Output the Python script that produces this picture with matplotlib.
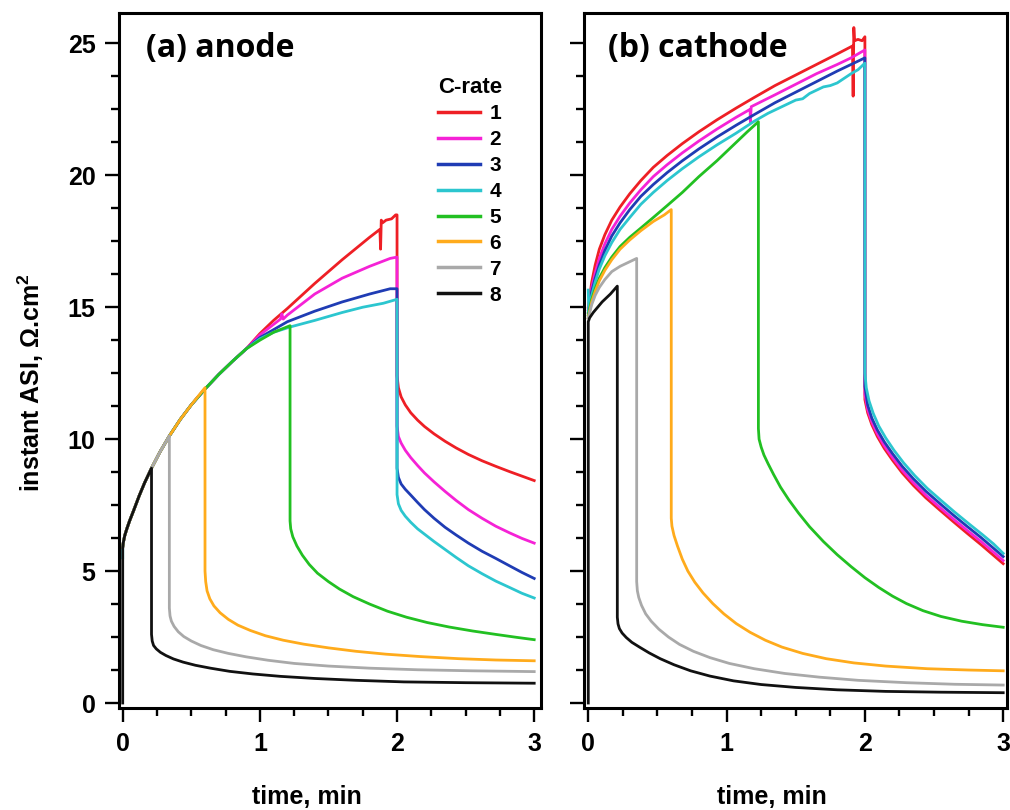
import matplotlib.pyplot as plt
from matplotlib.ticker import MultipleLocator

plt.rcParams['font.family'] = ['Liberation Sans', 'DejaVu Sans']
plt.rcParams['font.weight'] = 'bold'
plt.rcParams['mathtext.fontset'] = 'custom'
plt.rcParams['mathtext.rm'] = 'Liberation Sans:bold'
plt.rcParams['mathtext.bf'] = 'Liberation Sans:bold'
plt.rcParams['mathtext.default'] = 'bf'

rates = ['1', '2', '3', '4', '5', '6', '7', '8']
colors = ['#ee1f25', '#f522d6', '#1f3cb4', '#2cc6cf', '#22c022', '#ffab1c', '#a9a9a9', '#111111']

# anode, (time [min], ASI [ohm.cm2]); all rates share the early part of the pulse
anode_rise = [(0, 5.9), (0.005, 6.1), (0.015, 6.35), (0.03, 6.6), (0.05, 6.9), (0.08, 7.3), (0.12, 7.85),
              (0.16, 8.35), (0.21, 8.9), (0.27, 9.5), (0.34, 10.12), (0.42, 10.75), (0.5, 11.3), (0.6, 11.9),
              (0.7, 12.45), (0.8, 12.95), (0.9, 13.42)]

anode_1 = anode_rise + [(1.0, 14.0), (1.1, 14.5), (1.2, 14.95), (1.4, 15.9), (1.6, 16.8), (1.8, 17.65),
                        (1.875, 17.95), (1.88, 17.2), (1.885, 18.3), (1.895, 18.2), (1.92, 18.3), (1.96, 18.35),
                        (1.99, 18.5), (2.0, 18.5), (2.0, 12.4), (2.01, 11.95), (2.03, 11.6), (2.06, 11.3),
                        (2.1, 11.0), (2.15, 10.72), (2.2, 10.48), (2.27, 10.2), (2.35, 9.92), (2.43, 9.67),
                        (2.52, 9.42), (2.62, 9.18), (2.72, 8.97), (2.82, 8.77), (2.91, 8.6), (3.0, 8.43)]
anode_2 = anode_rise + [(1.0, 13.95), (1.1, 14.35), (1.15, 14.55), (1.16, 14.75), (1.17, 14.55), (1.2, 14.7),
                        (1.4, 15.5), (1.6, 16.1), (1.8, 16.55), (1.95, 16.85), (2.0, 16.9), (2.0, 10.5),
                        (2.01, 10.1), (2.03, 9.85), (2.06, 9.58), (2.1, 9.3), (2.15, 9.0), (2.2, 8.72),
                        (2.27, 8.38), (2.35, 8.02), (2.43, 7.68), (2.52, 7.33), (2.62, 7.0), (2.72, 6.7),
                        (2.82, 6.45), (2.91, 6.24), (3.0, 6.06)]
anode_3 = anode_rise + [(1.0, 13.85), (1.1, 14.15), (1.2, 14.45), (1.4, 14.85), (1.6, 15.2), (1.8, 15.5),
                        (1.95, 15.7), (2.0, 15.7), (2.0, 8.9), (2.01, 8.55), (2.03, 8.3), (2.06, 8.1),
                        (2.1, 7.88), (2.15, 7.6), (2.2, 7.33), (2.27, 7.0), (2.35, 6.66), (2.43, 6.37),
                        (2.52, 6.06), (2.62, 5.75), (2.72, 5.48), (2.82, 5.2), (2.91, 4.95), (3.0, 4.72)]
anode_4 = [(0, 5.5)] + anode_rise + [(1.0, 13.8), (1.1, 14.05), (1.22, 14.25), (1.4, 14.5), (1.5, 14.65),
                                     (1.6, 14.8), (1.75, 15.0), (1.9, 15.15), (2.0, 15.3), (2.0, 7.9),
                                     (2.01, 7.55), (2.03, 7.3), (2.06, 7.08), (2.1, 6.85), (2.15, 6.6),
                                     (2.2, 6.4), (2.27, 6.12), (2.35, 5.82), (2.43, 5.52), (2.52, 5.2),
                                     (2.62, 4.9), (2.72, 4.62), (2.82, 4.38), (2.91, 4.16), (3.0, 3.98)]
anode_5 = anode_rise + [(1.0, 13.75), (1.1, 14.05), (1.22, 14.3), (1.22, 6.9), (1.225, 6.6), (1.24, 6.3),
                        (1.27, 5.95), (1.31, 5.6), (1.36, 5.25), (1.42, 4.92), (1.5, 4.6), (1.58, 4.32),
                        (1.68, 4.03), (1.8, 3.75), (1.93, 3.48), (2.07, 3.25), (2.22, 3.05), (2.38, 2.88),
                        (2.55, 2.73), (2.72, 2.6), (2.87, 2.49), (3.0, 2.4)]
anode_6 = [p for p in anode_rise if p[0] <= 0.5] + [
    (0.6, 11.95), (0.6, 5.0), (0.605, 4.6), (0.615, 4.25), (0.635, 3.95), (0.665, 3.68), (0.71, 3.42),
    (0.77, 3.17), (0.84, 2.95), (0.93, 2.75), (1.04, 2.55), (1.17, 2.38), (1.32, 2.23), (1.5, 2.09),
    (1.7, 1.96), (1.92, 1.85), (2.17, 1.76), (2.45, 1.68), (2.72, 1.63), (3.0, 1.6)]
anode_7 = [p for p in anode_rise if p[0] <= 0.34] + [
    (0.34, 3.6), (0.345, 3.3), (0.355, 3.1), (0.375, 2.9), (0.405, 2.7), (0.445, 2.52), (0.5, 2.35),
    (0.57, 2.18), (0.66, 2.02), (0.77, 1.88), (0.9, 1.75), (1.06, 1.62), (1.25, 1.5), (1.5, 1.4),
    (1.8, 1.32), (2.15, 1.26), (2.55, 1.22), (3.0, 1.19)]
anode_8 = [(0, 0)] + [p for p in anode_rise if p[0] <= 0.21] + [
    (0.21, 2.6), (0.215, 2.35), (0.225, 2.18), (0.245, 2.05), (0.275, 1.92), (0.315, 1.8), (0.37, 1.67),
    (0.44, 1.55), (0.53, 1.43), (0.64, 1.32), (0.78, 1.2), (0.95, 1.1), (1.15, 1.01), (1.4, 0.93),
    (1.7, 0.86), (2.05, 0.8), (2.5, 0.77), (3.0, 0.75)]

# cathode
cathode_1 = [(0, 15.0), (0.01, 15.4), (0.025, 15.95), (0.05, 16.6), (0.08, 17.2), (0.12, 17.75), (0.17, 18.3),
             (0.23, 18.8), (0.3, 19.3), (0.38, 19.8), (0.47, 20.3), (0.57, 20.75), (0.68, 21.2), (0.8, 21.65),
             (0.93, 22.1), (1.07, 22.55), (1.2, 22.95), (1.35, 23.4), (1.5, 23.8), (1.65, 24.2), (1.8, 24.6),
             (1.91, 24.9), (1.915, 23.0), (1.92, 25.6), (1.925, 25.1), (1.95, 25.15), (1.98, 25.1),
             (2.0, 25.25), (2.0, 11.5), (2.02, 11.0), (2.05, 10.55), (2.09, 10.1), (2.14, 9.65), (2.2, 9.2),
             (2.27, 8.72), (2.35, 8.25), (2.44, 7.78), (2.54, 7.32), (2.64, 6.87), (2.74, 6.43), (2.84, 6.0),
             (2.92, 5.64), (3.0, 5.28)]
cathode_2 = [(0, 14.9), (0.01, 15.25), (0.025, 15.75), (0.05, 16.3), (0.08, 16.85), (0.12, 17.4),
             (0.17, 17.95), (0.23, 18.45), (0.3, 18.95), (0.38, 19.45), (0.47, 19.95), (0.57, 20.4),
             (0.68, 20.85), (0.8, 21.3), (0.93, 21.75), (1.07, 22.2), (1.17, 22.5), (1.172, 22.0),
             (1.178, 22.6), (1.35, 23.05), (1.5, 23.45), (1.65, 23.85), (1.8, 24.2), (1.9, 24.45), (2.0, 24.75),
             (2.0, 11.7), (2.02, 11.12), (2.05, 10.65), (2.09, 10.2), (2.14, 9.75), (2.2, 9.3), (2.27, 8.82),
             (2.35, 8.35), (2.44, 7.88), (2.54, 7.42), (2.64, 6.97), (2.74, 6.54), (2.84, 6.12), (2.92, 5.76),
             (3.0, 5.4)]
cathode_3 = [(0, 14.8), (0.01, 15.15), (0.025, 15.6), (0.05, 16.1), (0.08, 16.6), (0.12, 17.15), (0.17, 17.7),
             (0.23, 18.2), (0.3, 18.7), (0.38, 19.2), (0.47, 19.65), (0.57, 20.1), (0.68, 20.55), (0.8, 21.0),
             (0.93, 21.45), (1.07, 21.9), (1.2, 22.3), (1.35, 22.75), (1.5, 23.15), (1.65, 23.55),
             (1.8, 23.95), (1.9, 24.2), (2.0, 24.45), (2.0, 12.0), (2.02, 11.3), (2.05, 10.8), (2.09, 10.35),
             (2.14, 9.9), (2.2, 9.45), (2.27, 8.97), (2.35, 8.5), (2.44, 8.03), (2.54, 7.57), (2.64, 7.12),
             (2.74, 6.69), (2.84, 6.27), (2.92, 5.91), (3.0, 5.55)]
cathode_4 = [(0, 15.65), (0.004, 14.8), (0.01, 15.05), (0.025, 15.45), (0.05, 15.95), (0.08, 16.45),
             (0.12, 16.95), (0.17, 17.45), (0.23, 17.95), (0.3, 18.4), (0.38, 18.9), (0.47, 19.35),
             (0.57, 19.8), (0.68, 20.25), (0.8, 20.7), (0.93, 21.15), (1.07, 21.6), (1.2, 22.05), (1.3, 22.35),
             (1.4, 22.6), (1.5, 22.85), (1.55, 22.9), (1.6, 23.1), (1.7, 23.35), (1.75, 23.4), (1.8, 23.5),
             (1.9, 23.85), (1.95, 24.0), (2.0, 24.25), (2.0, 12.5), (2.01, 11.95), (2.03, 11.45),
             (2.06, 10.98), (2.1, 10.5), (2.15, 10.05), (2.21, 9.58), (2.28, 9.1), (2.36, 8.62), (2.45, 8.14),
             (2.55, 7.68), (2.65, 7.23), (2.75, 6.8), (2.85, 6.38), (2.93, 6.03), (3.0, 5.67)]
cathode_5 = [(0, 14.7), (0.01, 14.95), (0.025, 15.3), (0.05, 15.7), (0.08, 16.1), (0.12, 16.5), (0.17, 16.9),
             (0.23, 17.3), (0.3, 17.65), (0.38, 18.0), (0.47, 18.4), (0.57, 18.85), (0.68, 19.35), (0.8, 19.95),
             (0.93, 20.55), (1.07, 21.25), (1.15, 21.65), (1.23, 22.03), (1.23, 10.4), (1.235, 10.0),
             (1.25, 9.7), (1.27, 9.4), (1.3, 9.07), (1.34, 8.66), (1.39, 8.18), (1.45, 7.7), (1.52, 7.2),
             (1.6, 6.68), (1.7, 6.12), (1.8, 5.62), (1.9, 5.17), (2.0, 4.75), (2.1, 4.38), (2.2, 4.05),
             (2.3, 3.77), (2.42, 3.5), (2.55, 3.28), (2.7, 3.1), (2.85, 2.97), (3.0, 2.87)]
cathode_6 = [(0, 14.6), (0.01, 14.85), (0.025, 15.2), (0.05, 15.6), (0.08, 16.0), (0.12, 16.4), (0.17, 16.8),
             (0.23, 17.2), (0.3, 17.55), (0.38, 17.9), (0.47, 18.25), (0.55, 18.5), (0.6, 18.7), (0.6, 7.0),
             (0.605, 6.7), (0.62, 6.35), (0.645, 5.95), (0.68, 5.45), (0.72, 5.0), (0.77, 4.58), (0.83, 4.17),
             (0.9, 3.77), (0.98, 3.38), (1.07, 3.01), (1.17, 2.68), (1.28, 2.38), (1.4, 2.12), (1.55, 1.88),
             (1.72, 1.68), (1.92, 1.52), (2.15, 1.4), (2.45, 1.3), (2.75, 1.25), (3.0, 1.22)]
cathode_7 = [(0, 14.6), (0.01, 14.8), (0.025, 15.1), (0.05, 15.45), (0.08, 15.75), (0.12, 16.05),
             (0.17, 16.35), (0.23, 16.55), (0.29, 16.7), (0.35, 16.85), (0.35, 4.6), (0.355, 4.25),
             (0.365, 4.0), (0.385, 3.7), (0.415, 3.38), (0.455, 3.1), (0.51, 2.8), (0.58, 2.5), (0.66, 2.22),
             (0.76, 1.96), (0.88, 1.72), (1.02, 1.5), (1.2, 1.3), (1.42, 1.12), (1.67, 0.98), (1.95, 0.86),
             (2.3, 0.77), (2.65, 0.71), (3.0, 0.68)]
cathode_8 = [(0, 0), (0, 14.45), (0.01, 14.6), (0.036, 14.8), (0.1, 15.2), (0.16, 15.5), (0.21, 15.8),
             (0.21, 3.25), (0.215, 3.0), (0.225, 2.82), (0.245, 2.65), (0.275, 2.48), (0.315, 2.3),
             (0.37, 2.12), (0.44, 1.9), (0.52, 1.68), (0.62, 1.45), (0.74, 1.22), (0.88, 1.02), (1.05, 0.84),
             (1.25, 0.7), (1.5, 0.59), (1.8, 0.5), (2.15, 0.44), (2.55, 0.41), (3.0, 0.39)]

anode = [anode_1, anode_2, anode_3, anode_4, anode_5, anode_6, anode_7, anode_8]
cathode = [cathode_1, cathode_2, cathode_3, cathode_4, cathode_5, cathode_6, cathode_7, cathode_8]

fig = plt.figure(figsize=(10.1, 8.1), dpi=100)
ax1 = fig.add_axes([0.1181, 0.1259, 0.4172, 0.8577])
ax2 = fig.add_axes([0.5782, 0.1259, 0.4185, 0.8577])

for ax, curves in ((ax1, anode), (ax2, cathode)):
    for pts, c, r in zip(curves, colors, rates):
        t, y = zip(*pts)
        ax.plot(t, y, color=c, lw=2.0, label=r, solid_joinstyle='round')
    ax.set_ylim(-0.19, 26.14)
    ax.xaxis.set_major_locator(MultipleLocator(1))
    ax.xaxis.set_minor_locator(MultipleLocator(0.25))
    ax.yaxis.set_major_locator(MultipleLocator(5))
    ax.yaxis.set_minor_locator(MultipleLocator(1.25))
    ax.tick_params(which='major', direction='out', length=10, width=1.7, labelsize=18, pad=7)
    ax.tick_params(which='minor', direction='out', length=6, width=1.7)
    for s in ax.spines.values():
        s.set_linewidth(2.2)
    ax.set_xlabel('time, min', fontsize=18, fontweight='bold')
    ax.xaxis.set_label_coords(0.445, -0.111)

ax1.set_xlim(-0.025, 3.047)
ax2.set_xlim(-0.031, 3.025)
ax2.tick_params(axis='y', labelleft=False)

ax1.set_ylabel('instant ASI, \u03a9.cm$^2$', fontsize=18, fontweight='bold')
ax1.yaxis.set_label_coords(-0.174, 0.469)

ax1.text(0.063, 0.95, '(a) anode', transform=ax1.transAxes, fontsize=23, fontweight='bold',
         family='Open Sans', va='center', ha='left')
ax2.text(0.0575, 0.95, '(b) cathode', transform=ax2.transAxes, fontsize=23, fontweight='bold',
         family='Open Sans', va='center', ha='left')

leg = ax1.legend(title='C-rate', loc='upper left', bbox_to_anchor=(0.757, 0.909), frameon=False,
                 borderaxespad=0, borderpad=0, handlelength=2.0, handletextpad=0.45, labelspacing=0.33,
                 alignment='left', prop={'weight': 'bold', 'size': 15},
                 title_fontproperties={'weight': 'bold', 'size': 16})
for line in leg.get_lines():
    line.set_linewidth(2.5)

fig.savefig('out.png', dpi=100)
